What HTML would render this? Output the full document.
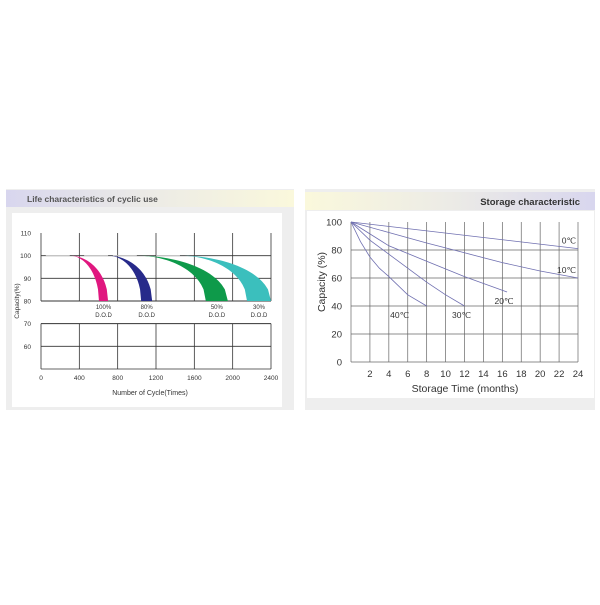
<!DOCTYPE html>
<html><head><meta charset="utf-8"><style>
body{margin:0;width:600px;height:600px;background:#fff;overflow:hidden;font-family:"Liberation Sans",sans-serif}
</style></head><body>
<svg width="600" height="600" xmlns="http://www.w3.org/2000/svg">
<defs>
<linearGradient id="hl" x1="0" x2="1"><stop offset="0" stop-color="#d8d6ee"/><stop offset="0.5" stop-color="#ecebe6"/><stop offset="1" stop-color="#faf8dc"/></linearGradient>
<linearGradient id="hr" x1="0" x2="1"><stop offset="0" stop-color="#faf8dc"/><stop offset="0.5" stop-color="#ecebe6"/><stop offset="1" stop-color="#d8d6ee"/></linearGradient>
</defs>
<g>
<rect x="6" y="189" width="288" height="221" fill="#eeeeee"/>
<rect x="6" y="190" width="288" height="17" fill="url(#hl)"/>
<text x="27" y="202" font-size="8.5" font-weight="bold" fill="#555">Life characteristics of cyclic use</text>
<rect x="12" y="213" width="270" height="194" fill="#fff"/>
<g id="lg"></g>
</g>
<g>
<rect x="305" y="189" width="290" height="221" fill="#eeeeee"/>
<rect x="305" y="192" width="290" height="18" fill="url(#hr)"/>
<text x="580" y="205" font-size="9.5" font-weight="bold" fill="#333" text-anchor="end">Storage characteristic</text>
<rect x="307" y="211" width="287" height="187" fill="#fff"/>
<g id="sg"></g>
</g>
</svg>
<script>
// Life chart data
const lifeXTicks=[0,400,800,1200,1600,2000,2400];
const lifeYTicks=[110,100,90,80,70,60];
const lifeSeries=['100% D.O.D','80% D.O.D','50% D.O.D','30% D.O.D'];
const lifeStart=[300,700,1000,1450];
const lifeEndInner=[605,1045,1720,2150];
const lifeEndOuter=[700,1160,1950,2400];
const lifeColors=['#e0177f','#272a8a','#0e9a4a','#3bbfbd'];
// Storage chart data
const stXTicks=[2,4,6,8,10,12,14,16,18,20,22,24];
const stYTicks=[100,80,60,40,20,0];
const stLabels=['0℃','10℃','20℃','30℃','40℃'];
const stMonths=[[0,24],[0,4,8,12,16,20,24],[0,4,8,12,16.5],[0,2,4,6,8,10,12],[0,1,2,3,4,6,8]];
const stValues=[[100,81],[100,92.5,85,78,71,65,60],[100,83,72,61,50],[100,87,77,67,57,48,40],[100,86,75,67,61,48,40]];
const stLabelPos=[[0.6,3],[0,6],[-1,-3],[0,-3],[0,-4]];
const NS='http://www.w3.org/2000/svg';
function mk(p,t,a){const e=document.createElementNS(NS,t);for(const k in a)e.setAttribute(k,a[k]);p.appendChild(e);return e;}
// life
const lg=document.getElementById('lg');
const lx=v=>41+v/2400*230, ly=v=>369-(v-50)/60*136;
lifeYTicks.slice(1).forEach(v=>{const l=mk(lg,'line',{x1:41,x2:271,y1:ly(v),y2:ly(v),stroke:'#333','stroke-width':v==80||v==70?1:0.8});});
lifeXTicks.forEach(v=>{[[ly(110),ly(80)],[ly(70),369]].forEach(s=>{const l=mk(lg,'line',{x1:lx(v),x2:lx(v),y1:s[0],y2:s[1],stroke:'#333','stroke-width':0.8});});});
mk(lg,'line',{x1:41,x2:271,y1:369,y2:369,stroke:'#333','stroke-width':0.8});
lifeYTicks.forEach(v=>{const t=mk(lg,'text',{x:31,y:ly(v)+2.5,'font-size':6.5,'text-anchor':'end',fill:'#333'});t.textContent=v;});
lifeXTicks.forEach(v=>{const t=mk(lg,'text',{x:lx(v),y:380,'font-size':6.5,'text-anchor':'middle',fill:'#333'});t.textContent=v;});
let t=mk(lg,'text',{x:150,y:395,'font-size':7,'text-anchor':'middle',fill:'#333'});t.textContent='Number of Cycle(Times)';
t=mk(lg,'text',{x:0,y:0,'font-size':6.5,'text-anchor':'middle',fill:'#333',transform:'translate(19,301) rotate(-90)'});t.textContent='Capacity(%)';
function arc(s,e,rev){const pts=[];for(let i=0;i<=30;i++){const u=i/30;const x=s+(e-s)*u;const y=80+20*Math.sqrt(Math.max(0,1-u*u));pts.push([lx(x),ly(y)]);}if(rev)pts.reverse();return pts;}
lifeSeries.forEach((n,i)=>{const p=arc(lifeStart[i],lifeEndOuter[i],false).concat(arc(lifeStart[i],lifeEndInner[i],true));
const pa=mk(lg,'path',{d:'M'+p.map(q=>q.join(',')).join('L')+'Z',fill:lifeColors[i]});
const ln=mk(lg,'line',{x1:lx(lifeStart[i]-250),x2:lx(lifeStart[i]),y1:ly(100),y2:ly(100),stroke:'#ddd','stroke-width':0.6});
const cx=lx((lifeEndInner[i]+lifeEndOuter[i])/2);const parts=n.split(' ');
parts.forEach((s,k)=>{const tt=mk(lg,'text',{x:cx,y:ly(80)+8+k*8,'font-size':6,'text-anchor':'middle',fill:'#333'});tt.textContent=s;});});
// storage
const sg=document.getElementById('sg');
const sx=v=>351+v/24*227, sy=v=>362-v/100*140;
stYTicks.forEach(v=>{if(v<100){const l=mk(sg,'line',{x1:351,x2:578,y1:sy(v),y2:sy(v),stroke:'#666','stroke-width':0.7});}
const tt=mk(sg,'text',{x:342,y:sy(v)+3.5,'font-size':9.5,'text-anchor':'end',fill:'#333'});tt.textContent=v;});
[0].concat(stXTicks).forEach(v=>{const l=mk(sg,'line',{x1:sx(v),x2:sx(v),y1:sy(100),y2:sy(0),stroke:'#666','stroke-width':0.7});});
stXTicks.forEach(v=>{const tt=mk(sg,'text',{x:sx(v),y:377,'font-size':9.5,'text-anchor':'middle',fill:'#333'});tt.textContent=v;});
t=mk(sg,'text',{x:465,y:392,'font-size':10.5,'text-anchor':'middle',fill:'#333'});t.textContent='Storage Time (months)';
t=mk(sg,'text',{x:0,y:0,'font-size':10.5,'text-anchor':'middle',fill:'#333',transform:'translate(325,282) rotate(-90)'});t.textContent='Capacity  (%)';
stLabels.forEach((n,i)=>{const xs=stMonths[i],ys=stValues[i];
const pl=mk(sg,'polyline',{points:xs.map((x,k)=>sx(x)+','+sy(ys[k])).join(' '),fill:'none',stroke:'#6f6fb0','stroke-width':0.8});
const lx2=xs[xs.length-1],ly2=ys[ys.length-1];let px,py;
if(i<2){px=sx(lx2)-2;py=sy(ly2)-5;}else{px=sx(lx2)-3;py=sy(ly2)+12;}
const tt=mk(sg,'text',{x:px,y:py,'font-size':8.5,'text-anchor':i<2?'end':'middle',fill:'#333'});tt.textContent=n;
if(i==4)tt.setAttribute('x',sx(lx2)-27);});
</script>
</body></html>
